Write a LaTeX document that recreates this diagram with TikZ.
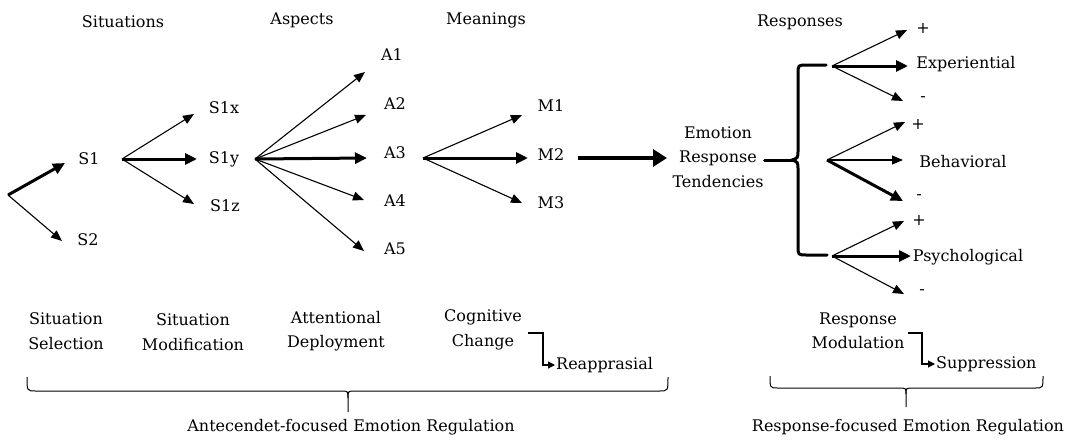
\documentclass[tikz,border=0pt]{standalone}
\usepackage{fontspec}
\setmainfont{DejaVu Serif}
\usetikzlibrary{arrows.meta}
\begin{document}
\begin{tikzpicture}[x=1pt,y=-1pt,
  lbl/.style={inner sep=1pt,font=\fontsize{16}{24.5}\selectfont,align=center},
  thin/.style={line width=1.1pt,-{Triangle[length=11pt,width=9pt]}},
  thk/.style={line width=3pt,-{Triangle[length=12pt,width=11pt]}},
  huge/.style={line width=4.8pt,-{Triangle[length=14pt,width=17pt]}},
  elbow/.style={line width=1.1pt,-{Triangle[length=7pt,width=7pt]}},
  bracepath/.style={line width=1pt},
  brk/.style={line width=3pt,line cap=round}]
\useasboundingbox (0,0) rectangle (1079,440);
% headings
\node[lbl] (hSit) at (123,22) {Situations};
\node[lbl] (hAsp) at (302,20) {Aspects};
\node[lbl] (hMea) at (486,20) {Meanings};
\node[lbl] (hRes) at (800,22) {Responses};
% situation nodes
\node[lbl] (S1) at (89,159) {S1};
\node[lbl] (S2) at (88,240) {S2};
\node[lbl] (S1x) at (224,108) {S1x};
\node[lbl] (S1y) at (224,159) {S1y};
\node[lbl] (S1z) at (225,206) {S1z};
\node[lbl] (A1) at (392,55) {A1};
\node[lbl] (A2) at (395,104) {A2};
\node[lbl] (A3) at (395,153) {A3};
\node[lbl] (A4) at (395,201) {A4};
\node[lbl] (A5) at (395,249) {A5};
\node[lbl] (M1) at (551,106) {M1};
\node[lbl] (M2) at (551,155) {M2};
\node[lbl] (M3) at (551,203) {M3};
\node[lbl] (ERT) at (718,157) {Emotion\\Response\\Tendencies};
% responses
\node[lbl] (pE) at (923,28) {+};
\node[lbl] (Exp) at (966,64) {Experiential};
\node[lbl] (mE) at (923,99) {-};
\node[lbl] (pB) at (918,124) {+};
\node[lbl] (Beh) at (963,162) {Behavioral};
\node[lbl] (mB) at (919,197) {-};
\node[lbl] (pP) at (919,220) {+};
\node[lbl] (Psy) at (968,257) {Psychological};
\node[lbl] (mP) at (922,292) {-};
% hubs and tips
\coordinate (h0) at (8,195);
\coordinate (tS1) at (65,163);
\coordinate (tS2) at (62,241);
\coordinate (hS1) at (122,159);
\coordinate (tS1x) at (194,114);
\coordinate (tS1y) at (197,159);
\coordinate (tS1z) at (194,204);
\coordinate (hS1y) at (255,159);
\coordinate (tA1) at (365,72);
\coordinate (tA2) at (366,115);
\coordinate (tA3) at (367,158);
\coordinate (tA4) at (364,200);
\coordinate (tA5) at (364,251);
\coordinate (hA3) at (423,158);
\coordinate (tM1) at (522,115);
\coordinate (tM2) at (528,158);
\coordinate (tM3) at (522,203);
\coordinate (hM2) at (578,158);
\coordinate (tERT) at (667,158);
\coordinate (hE) at (832,66);
\coordinate (tpE) at (907,30);
\coordinate (tExp) at (908,66);
\coordinate (tmE) at (903,101);
\coordinate (hB) at (827,160);
\coordinate (tpB) at (905,122);
\coordinate (tBeh) at (903,160);
\coordinate (tmB) at (903,201);
\coordinate (hP) at (832,256);
\coordinate (tpP) at (904,221);
\coordinate (tPsy) at (911,256);
\coordinate (tmP) at (904,294);
\coordinate (cusp) at (792,160);
% arrows
\draw[thk] (h0) -- (tS1);
\draw[thin] (h0) -- (tS2);
\draw[thin] (hS1) -- (tS1x);
\draw[thk] (hS1) -- (tS1y);
\draw[thin] (hS1) -- (tS1z);
\draw[thin] (hS1y) -- (tA1);
\draw[thin] (hS1y) -- (tA2);
\draw[thk] (hS1y) -- (tA3);
\draw[thin] (hS1y) -- (tA4);
\draw[thin] (hS1y) -- (tA5);
\draw[thin] (hA3) -- (tM1);
\draw[thk] (hA3) -- (tM2);
\draw[thin] (hA3) -- (tM3);
\draw[huge] (hM2) -- (tERT);
\draw[thin] (hE) -- (tpE);
\draw[thk] (hE) -- (tExp);
\draw[thin] (hE) -- (tmE);
\draw[thin] (hB) -- (tpB);
\draw[thin] (hB) -- (tBeh);
\draw[thk] (hB) -- (tmB);
\draw[thin] (hP) -- (tpP);
\draw[thk] (hP) -- (tPsy);
\draw[thin] (hP) -- (tmP);
% bracket
\draw[brk] (ERT.east |- cusp) -- (cusp);
\draw[brk] (826,65) -- (807,65) .. controls (798,65) .. (798,74) -- (798,150)
  .. controls (798,158) .. (cusp) .. controls (798,162) .. (798,170) -- (798,246)
  .. controls (798,255) .. (807,255) -- (827,255);
% bottom labels
\node[lbl] (SS) at (66,331) {Situation\\Selection};
\node[lbl] (SM) at (193,332) {Situation\\Modification};
\node[lbl] (AD) at (336,331) {Attentional\\Deployment};
\node[lbl] (CC) at (483,330) {Cognitive\\Change};
\node[lbl,anchor=west] (Reap) at (555,365) {Reapprasial};
\node[lbl] (RM) at (858,331) {Response\\Modulation};
\node[lbl,anchor=west] (Sup) at (935,364) {Suppression};
\draw[elbow] (528,333) -- (543,333) -- (543,365) -- (Reap.west);
\draw[elbow] (908,333) -- (922,333) -- (922,364) -- (Sup.west);
% braces
\coordinate (bL1) at (27,377);
\coordinate (bL2) at (668,377);
\coordinate (bLt) at (348,412);
\coordinate (bR1) at (770,376);
\coordinate (bR2) at (1043,376);
\coordinate (bRt) at (906,407);
\draw[bracepath] (bL1) .. controls (27,391) and (27,391) .. (36,391) -- (341,391)
  .. controls (348,391) .. (348,398) -- (bLt);
\draw[bracepath] (348,398) .. controls (348,391) .. (355,391) -- (659,391)
  .. controls (668,391) and (668,391) .. (bL2);
\draw[bracepath] (bR1) .. controls (770,388) and (770,388) .. (778,388) -- (899,388)
  .. controls (906,388) .. (906,394) -- (bRt);
\draw[bracepath] (906,394) .. controls (906,388) .. (913,388) -- (1035,388)
  .. controls (1043,388) and (1043,388) .. (bR2);
\node[lbl] (AER) at (351,427) {Antecendet-focused Emotion Regulation};
\node[lbl] (RER) at (908,427) {Response-focused Emotion Regulation};
\end{tikzpicture}
\end{document}
